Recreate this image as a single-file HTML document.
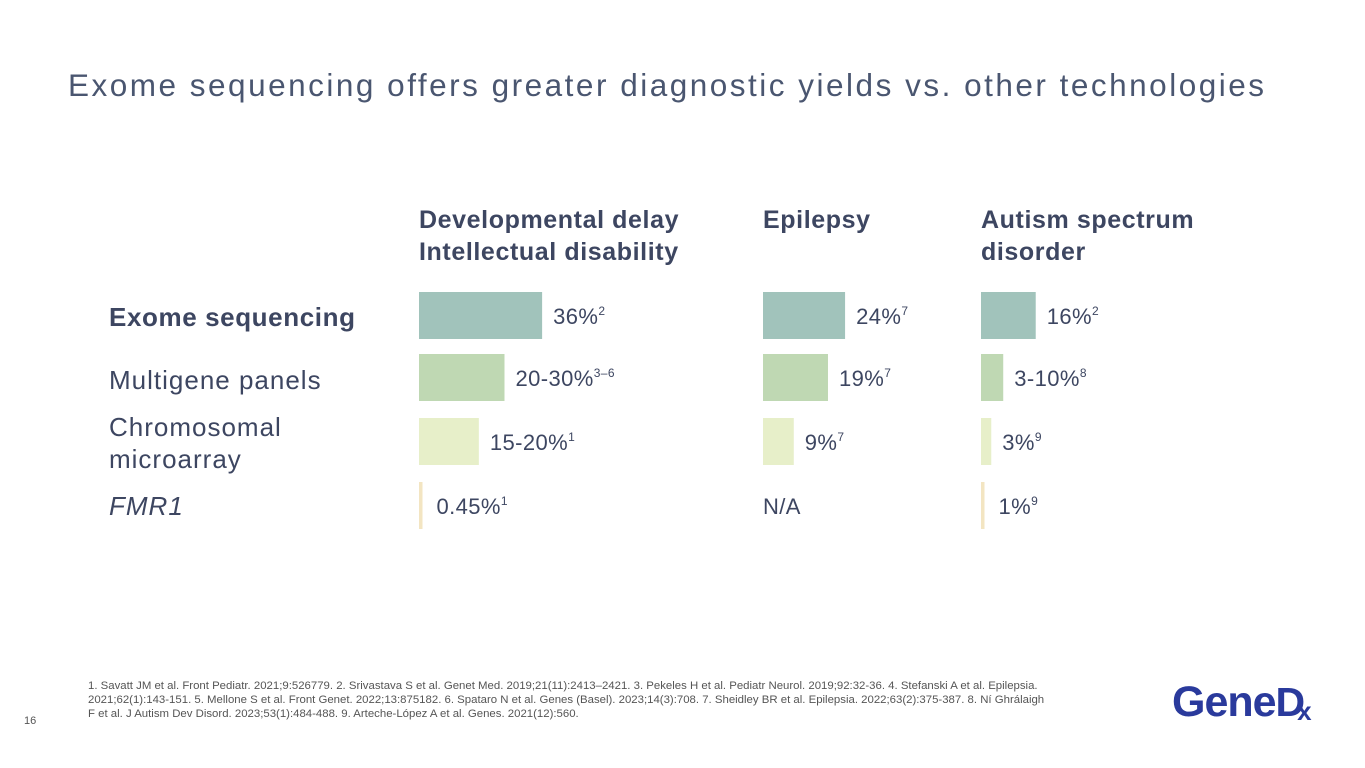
<!DOCTYPE html>
<html><head><meta charset="utf-8"><style>
body{margin:0;width:1365px;height:768px;background:#fff;overflow:hidden;font-family:"Liberation Sans",sans-serif}
svg{position:absolute;left:0;top:0}
</style></head><body>
<svg id="chart" width="1365" height="768">
<text x="68" y="96" font-size="31.5" fill="#4a5670" letter-spacing="2.5">Exome sequencing offers greater diagnostic yields vs. other technologies</text>
<g id="marks"></g>
<text x="88" y="689" font-size="11.4" fill="#555">
<tspan x="88" y="689">1. Savatt JM et al. Front Pediatr. 2021;9:526779. 2. Srivastava S et al. Genet Med. 2019;21(11):2413–2421. 3. Pekeles H et al. Pediatr Neurol. 2019;92:32-36. 4. Stefanski A et al. Epilepsia.</tspan>
<tspan x="88" y="703">2021;62(1):143-151. 5. Mellone S et al. Front Genet. 2022;13:875182. 6. Spataro N et al. Genes (Basel). 2023;14(3):708. 7. Sheidley BR et al. Epilepsia. 2022;63(2):375-387. 8. Ní Ghrálaigh</tspan>
<tspan x="88" y="717">F et al. J Autism Dev Disord. 2023;53(1):484-488. 9. Arteche-López A et al. Genes. 2021(12):560.</tspan></text>
<text x="24" y="724" font-size="11" fill="#555">16</text>
<text x="1172" y="716" font-size="43" font-weight="bold" fill="#2a3a9c" letter-spacing="-1">Gene<tspan font-size="41">D</tspan><tspan font-size="26" dx="-7" dy="4">x</tspan></text>
</svg>
<script>
const categories=["Exome sequencing","Multigene panels","Chromosomal microarray","FMR1"];
const conditions=["Developmental delay|Intellectual disability","Epilepsy","Autism spectrum|disorder"];
const ddValues=[36,25,17.5,0.45];
const epValues=[24,19,9,null];
const asdValues=[16,6.5,3,1];
const ddLabels=["36%","20-30%","15-20%","0.45%"];
const ddRefs=["2","3–6","1","1"];
const epLabels=["24%","19%","9%","N/A"];
const epRefs=["7","7","7",""];
const asdLabels=["16%","3-10%","3%","1%"];
const asdRefs=["2","8","9","9"];

const NS="http://www.w3.org/2000/svg";
const g=document.getElementById('marks');
const colX=[419,763,981];
const rowTop=[292,354,418,482];
const barH=47;
const colors=["#a1c3bb","#bfd8b3","#e7efc9","#f3e5c2"];
const ink="#3d4661";
function xScale(v){return Math.max(3.5,v*3.42);}
function mk(tag,attrs){const e=document.createElementNS(NS,tag);for(const k in attrs)e.setAttribute(k,attrs[k]);g.appendChild(e);return e;}

conditions.forEach((c,i)=>{
  c.split("|").forEach((line,j)=>{
    const t=mk('text',{x:colX[i],y:228+j*32,'font-size':25,'font-weight':'bold','letter-spacing':0.6,fill:ink});
    t.textContent=line;
    
    
  });
});
const rowLabelY=[[326],[389],[436,468],[515]];
categories.forEach((c,i)=>{
  const lines=i===2?["Chromosomal","microarray"]:[c];
  lines.forEach((l,j)=>{
    const t=mk('text',{x:109,y:rowLabelY[i][j],'font-size':26,'letter-spacing':1,fill:ink});
    if(i===0){t.setAttribute('font-weight','bold');t.setAttribute('letter-spacing',0.6);}
    if(i===3)t.setAttribute('font-style','italic');
    t.textContent=l;
    
    
  });
});
const series=[[ddValues,ddLabels,ddRefs],[epValues,epLabels,epRefs],[asdValues,asdLabels,asdRefs]];
series.forEach((s,ci)=>{
  s[0].forEach((v,ri)=>{
    let w=0;
    if(v!==null){
      w=xScale(v);
      const r=mk('rect',{x:colX[ci],y:rowTop[ri],width:w,height:barH,fill:colors[ri]});
      
      
    }
    const lx=v===null?colX[ci]:colX[ci]+w+(v<2?14:11);
    const t=mk('text',{x:lx,y:rowTop[ri]+32,'font-size':22,'letter-spacing':0.4,fill:ink});
    t.textContent=s[1][ri];
    if(s[2][ri]){const sp=document.createElementNS(NS,'tspan');sp.setAttribute('font-size',12);sp.setAttribute('dy',-9);sp.textContent=s[2][ri];t.appendChild(sp);}
    
    
  });
});
</script>
</body></html>
